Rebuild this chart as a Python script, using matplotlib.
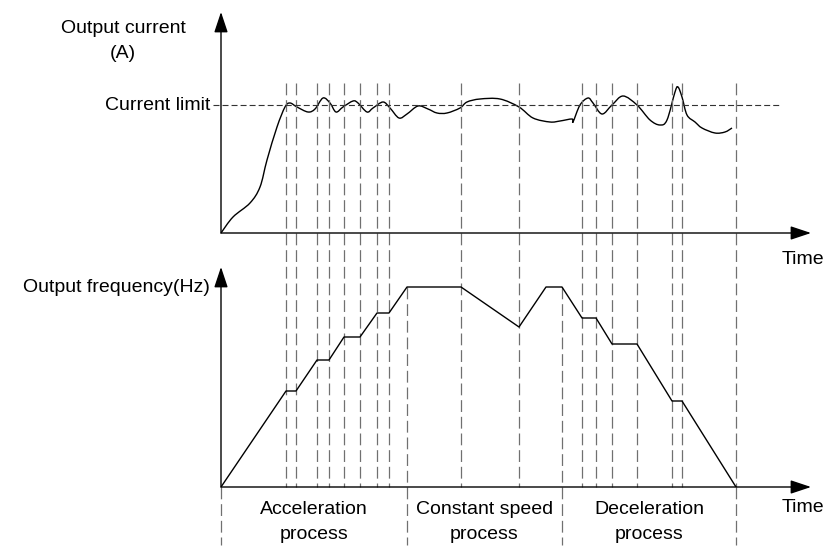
import numpy as np
import matplotlib
matplotlib.use('Agg')
import matplotlib.pyplot as plt
from matplotlib.path import Path
from matplotlib.patches import PathPatch

plt.rcParams['font.family'] = ['Liberation Sans', 'DejaVu Sans']
plt.rcParams['lines.scale_dashes'] = False

# ---------------------------------------------------------------
# data (time and values in arbitrary units)
# ---------------------------------------------------------------
current_limit = 128

current_t = [0, 12, 29, 39, 46, 56, 64, 69, 76, 87, 94, 102, 109, 115, 122, 132,
             137, 146, 152, 162, 169, 178, 186, 197, 207, 216, 226, 239, 246, 259,
             279, 298, 312, 329, 339, 351, 352, 359, 367, 372, 381, 391, 402, 416,
             429, 439, 446, 454, 457, 461, 466, 474, 481, 494, 504, 511]
current_a = [0, 16, 30, 46, 73, 106, 126, 130, 126, 121, 124, 135, 130, 121, 126, 132,
             130, 121, 125, 131, 125, 115, 119, 127, 124, 120, 120, 125, 131, 134,
             134, 126, 115, 111, 112, 114, 111, 128, 135, 130, 119, 128, 137, 128,
             113, 108, 113, 141, 146, 136, 118, 111, 105, 100, 101, 105]

freq_t = [0, 65, 75, 96, 108, 123, 139, 156, 168, 186, 240, 298, 325, 341,
          361, 375, 391, 416, 451, 461, 515]
freq_hz = [0, 96, 96, 127, 127, 150, 150, 174, 174, 200, 200, 160, 200, 200,
           169, 169, 143, 143, 86, 86, 0]

# moments where the drive changes state (dashed guide lines)
event_t = [65, 75, 96, 108, 123, 139, 156, 168, 240, 298, 361, 375, 391, 416, 451, 461, 515]
# borders of the three process zones
stage_t = [0, 186, 341, 515]
stage_names = ['Acceleration\nprocess', 'Constant speed\nprocess', 'Deceleration\nprocess']


def smooth_path(xs, ys):
    # Catmull-Rom style bezier through the read points
    pts = np.column_stack([xs, ys]).astype(float)
    verts = [pts[0]]
    codes = [Path.MOVETO]
    for i in range(len(pts) - 1):
        p0 = pts[i - 1] if i > 0 else pts[i]
        p1 = pts[i]
        p2 = pts[i + 1]
        p3 = pts[i + 2] if i + 2 < len(pts) else p2
        verts += [p1 + (p2 - p0) / 6, p2 - (p3 - p1) / 6, p2]
        codes += [Path.CURVE4] * 3
    return Path(verts, codes)


def draw_axis_arrows(ax, xmax, ymax):
    arrow = dict(arrowstyle='-|>,head_length=0.9,head_width=0.3', color='black',
                 lw=1.0, mutation_scale=14, shrinkA=0, shrinkB=0)
    ax.annotate('', xy=(xmax, 0), xytext=(0, 0), arrowprops=arrow, annotation_clip=False)
    ax.annotate('', xy=(0, ymax), xytext=(0, 0), arrowprops=arrow, annotation_clip=False)


fig = plt.figure(figsize=(8.26, 5.47), dpi=100)
W, H = 826.0, 547.0

ax_top = fig.add_axes([221 / W, (H - 233) / H, 590 / W, 221 / H])
ax_bot = fig.add_axes([221 / W, (H - 487) / H, 590 / W, 220 / H])

for ax, ymax in ((ax_top, 221), (ax_bot, 220)):
    ax.set_xlim(0, 590)
    ax.set_ylim(0, ymax)
    ax.axis('off')
    draw_axis_arrows(ax, 590, ymax)

guide = dict(color='#707070', lw=0.9, linestyle=(0, (8.5, 3.5)), clip_on=False)

# event lines run from the top chart down to the lower time axis
for t in event_t:
    ax_top.plot([t, t], [150, -254], **guide)

# zone borders below the lower axis
ax_bot.plot([stage_t[0], stage_t[0]], [0, -58], **guide)
ax_bot.plot([stage_t[1], stage_t[1]], [200, -58], **guide)
ax_bot.plot([stage_t[2], stage_t[2]], [200, -58], **guide)
ax_bot.plot([stage_t[3], stage_t[3]], [0, -58], **guide)

# current limit
ax_top.plot([-8, 559], [current_limit, current_limit], color='#333333', lw=0.8,
            linestyle=(0, (4.3, 2.2)), clip_on=False)

# output current curve
ax_top.add_patch(PathPatch(smooth_path(current_t, current_a), fill=False,
                           ec='black', lw=1.0))

# output frequency
ax_bot.plot(freq_t, freq_hz, color='black', lw=1.0)

fs = 14
ax_top.text(-98, 175, 'Output current\n(A)', ha='center', va='baseline',
            fontsize=fs, linespacing=1.6)
ax_top.text(-11, current_limit, 'Current limit', ha='right', va='center', fontsize=fs)
ax_top.text(561, -26, 'Time', ha='left', va='center', fontsize=fs)
ax_bot.text(-105, 199, 'Output frequency(Hz)', ha='center', va='center', fontsize=fs)
ax_bot.text(561, -21, 'Time', ha='left', va='center', fontsize=fs)

for k, name in enumerate(stage_names):
    mid = (stage_t[k] + stage_t[k + 1]) / 2
    ax_bot.text(mid, -35, name, ha='center', va='center', fontsize=fs, linespacing=1.6)

fig.savefig('out.png', dpi=100)
